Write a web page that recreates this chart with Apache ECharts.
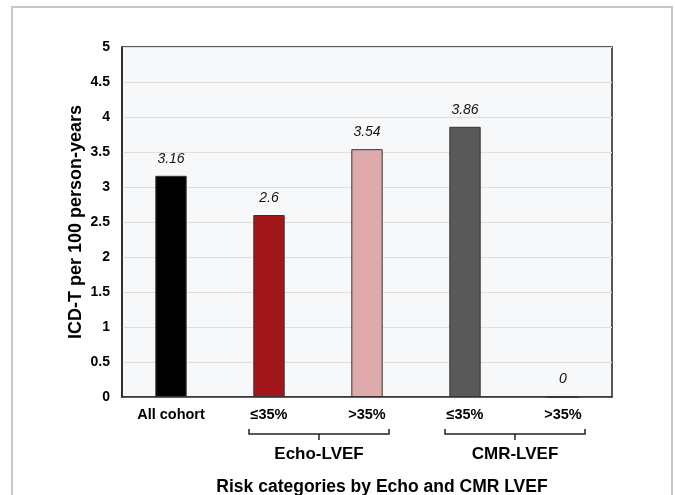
<!DOCTYPE html>
<html><head><meta charset="utf-8">
<script src="https://cdn.jsdelivr.net/npm/echarts@6/dist/echarts.min.js"></script>
<style>html,body{margin:0;padding:0;background:#fff}#c{width:675px;height:495px}</style>
</head><body><div id="c"></div>
<script>
const categories = ["All cohort", "Echo ≤35%", "Echo >35%", "CMR ≤35%", "CMR >35%"];
const tickLabels = ["All cohort", "≤35%", ">35%", "≤35%", ">35%"];
const values = [3.16, 2.6, 3.54, 3.86, 0];
const barColors = ["#000000", "#a3161a", "#dfaaac", "#595959", "#595959"];
const groups = [{name: "Echo-LVEF", from: 1, to: 2}, {name: "CMR-LVEF", from: 3, to: 4}];
const yTicks = {min: 0, max: 5, interval: 0.5};

const font = "'Liberation Sans', Arial, sans-serif";
const chart = echarts.init(document.getElementById('c'), null, {renderer: 'canvas'});
const option = {
  animation: false,
  backgroundColor: '#fff',
  textStyle: {fontFamily: font},
  grid: {left: 122, right: 63, top: 47, bottom: 98, show: true, backgroundColor: '#f7f8fa', borderColor: '#222', borderWidth: 1.5},
  xAxis: {
    type: 'category', data: categories,
    axisLine: {show: true, lineStyle: {color: '#333', width: 1.5}},
    axisTick: {show: false},
    axisLabel: {formatter: (v, i) => tickLabels[i], color: '#000', fontWeight: 'bold', fontSize: 14.5, margin: 10, fontFamily: font}
  },
  yAxis: {
    type: 'value', min: yTicks.min, max: yTicks.max, interval: yTicks.interval,
    name: 'ICD-T per 100 person-years', nameLocation: 'middle', nameGap: 37, nameMoveOverlap: false,
    nameTextStyle: {color: '#000', fontWeight: 'bold', fontSize: 18, fontFamily: font},
    axisLine: {show: true, lineStyle: {color: '#222', width: 1.5}},
    axisTick: {show: false},
    axisLabel: {color: '#000', fontWeight: 'bold', fontSize: 14, margin: 12, fontFamily: font},
    splitLine: {lineStyle: {color: '#dedede', width: 1}}
  },
  series: [{
    type: 'bar', barWidth: '32%',
    data: values.map((v, i) => ({value: v, itemStyle: {color: barColors[i], borderColor: '#333', borderWidth: 1}})),
    label: {show: true, position: 'top', distance: 10, fontStyle: 'italic', fontSize: 14, color: '#111', fontFamily: font}
  }]
};
chart.setOption(option);

const g = [];
g.push({type: 'rect', shape: {x: 12, y: 7, width: 660, height: 500}, style: {fill: 'none', stroke: '#c8c8c8', lineWidth: 2}, z: 0});
groups.forEach(gr => {
  const x1 = chart.convertToPixel({xAxisIndex: 0}, categories[gr.from]) - 20;
  const x2 = chart.convertToPixel({xAxisIndex: 0}, categories[gr.to]) + 22;
  const xc = (x1 + x2) / 2;
  const yTop = 429, yBot = 434, yTip = 440;
  g.push({type: 'polyline', shape: {points: [[x1, yTop], [x1, yBot], [x2, yBot], [x2, yTop]]}, style: {stroke: '#222', lineWidth: 1.5, fill: null}});
  g.push({type: 'line', shape: {x1: xc, y1: yBot, x2: xc, y2: yTip}, style: {stroke: '#222', lineWidth: 1.5}});
  g.push({type: 'text', x: xc, y: 454, style: {text: gr.name, align: 'center', verticalAlign: 'middle', font: 'bold 17px ' + font, fill: '#000'}});
});
g.push({type: 'text', x: 382, y: 487, style: {text: 'Risk categories by Echo and CMR LVEF', align: 'center', verticalAlign: 'middle', font: 'bold 17.5px ' + font, fill: '#000'}});
chart.setOption({graphic: g});
</script></body></html>
